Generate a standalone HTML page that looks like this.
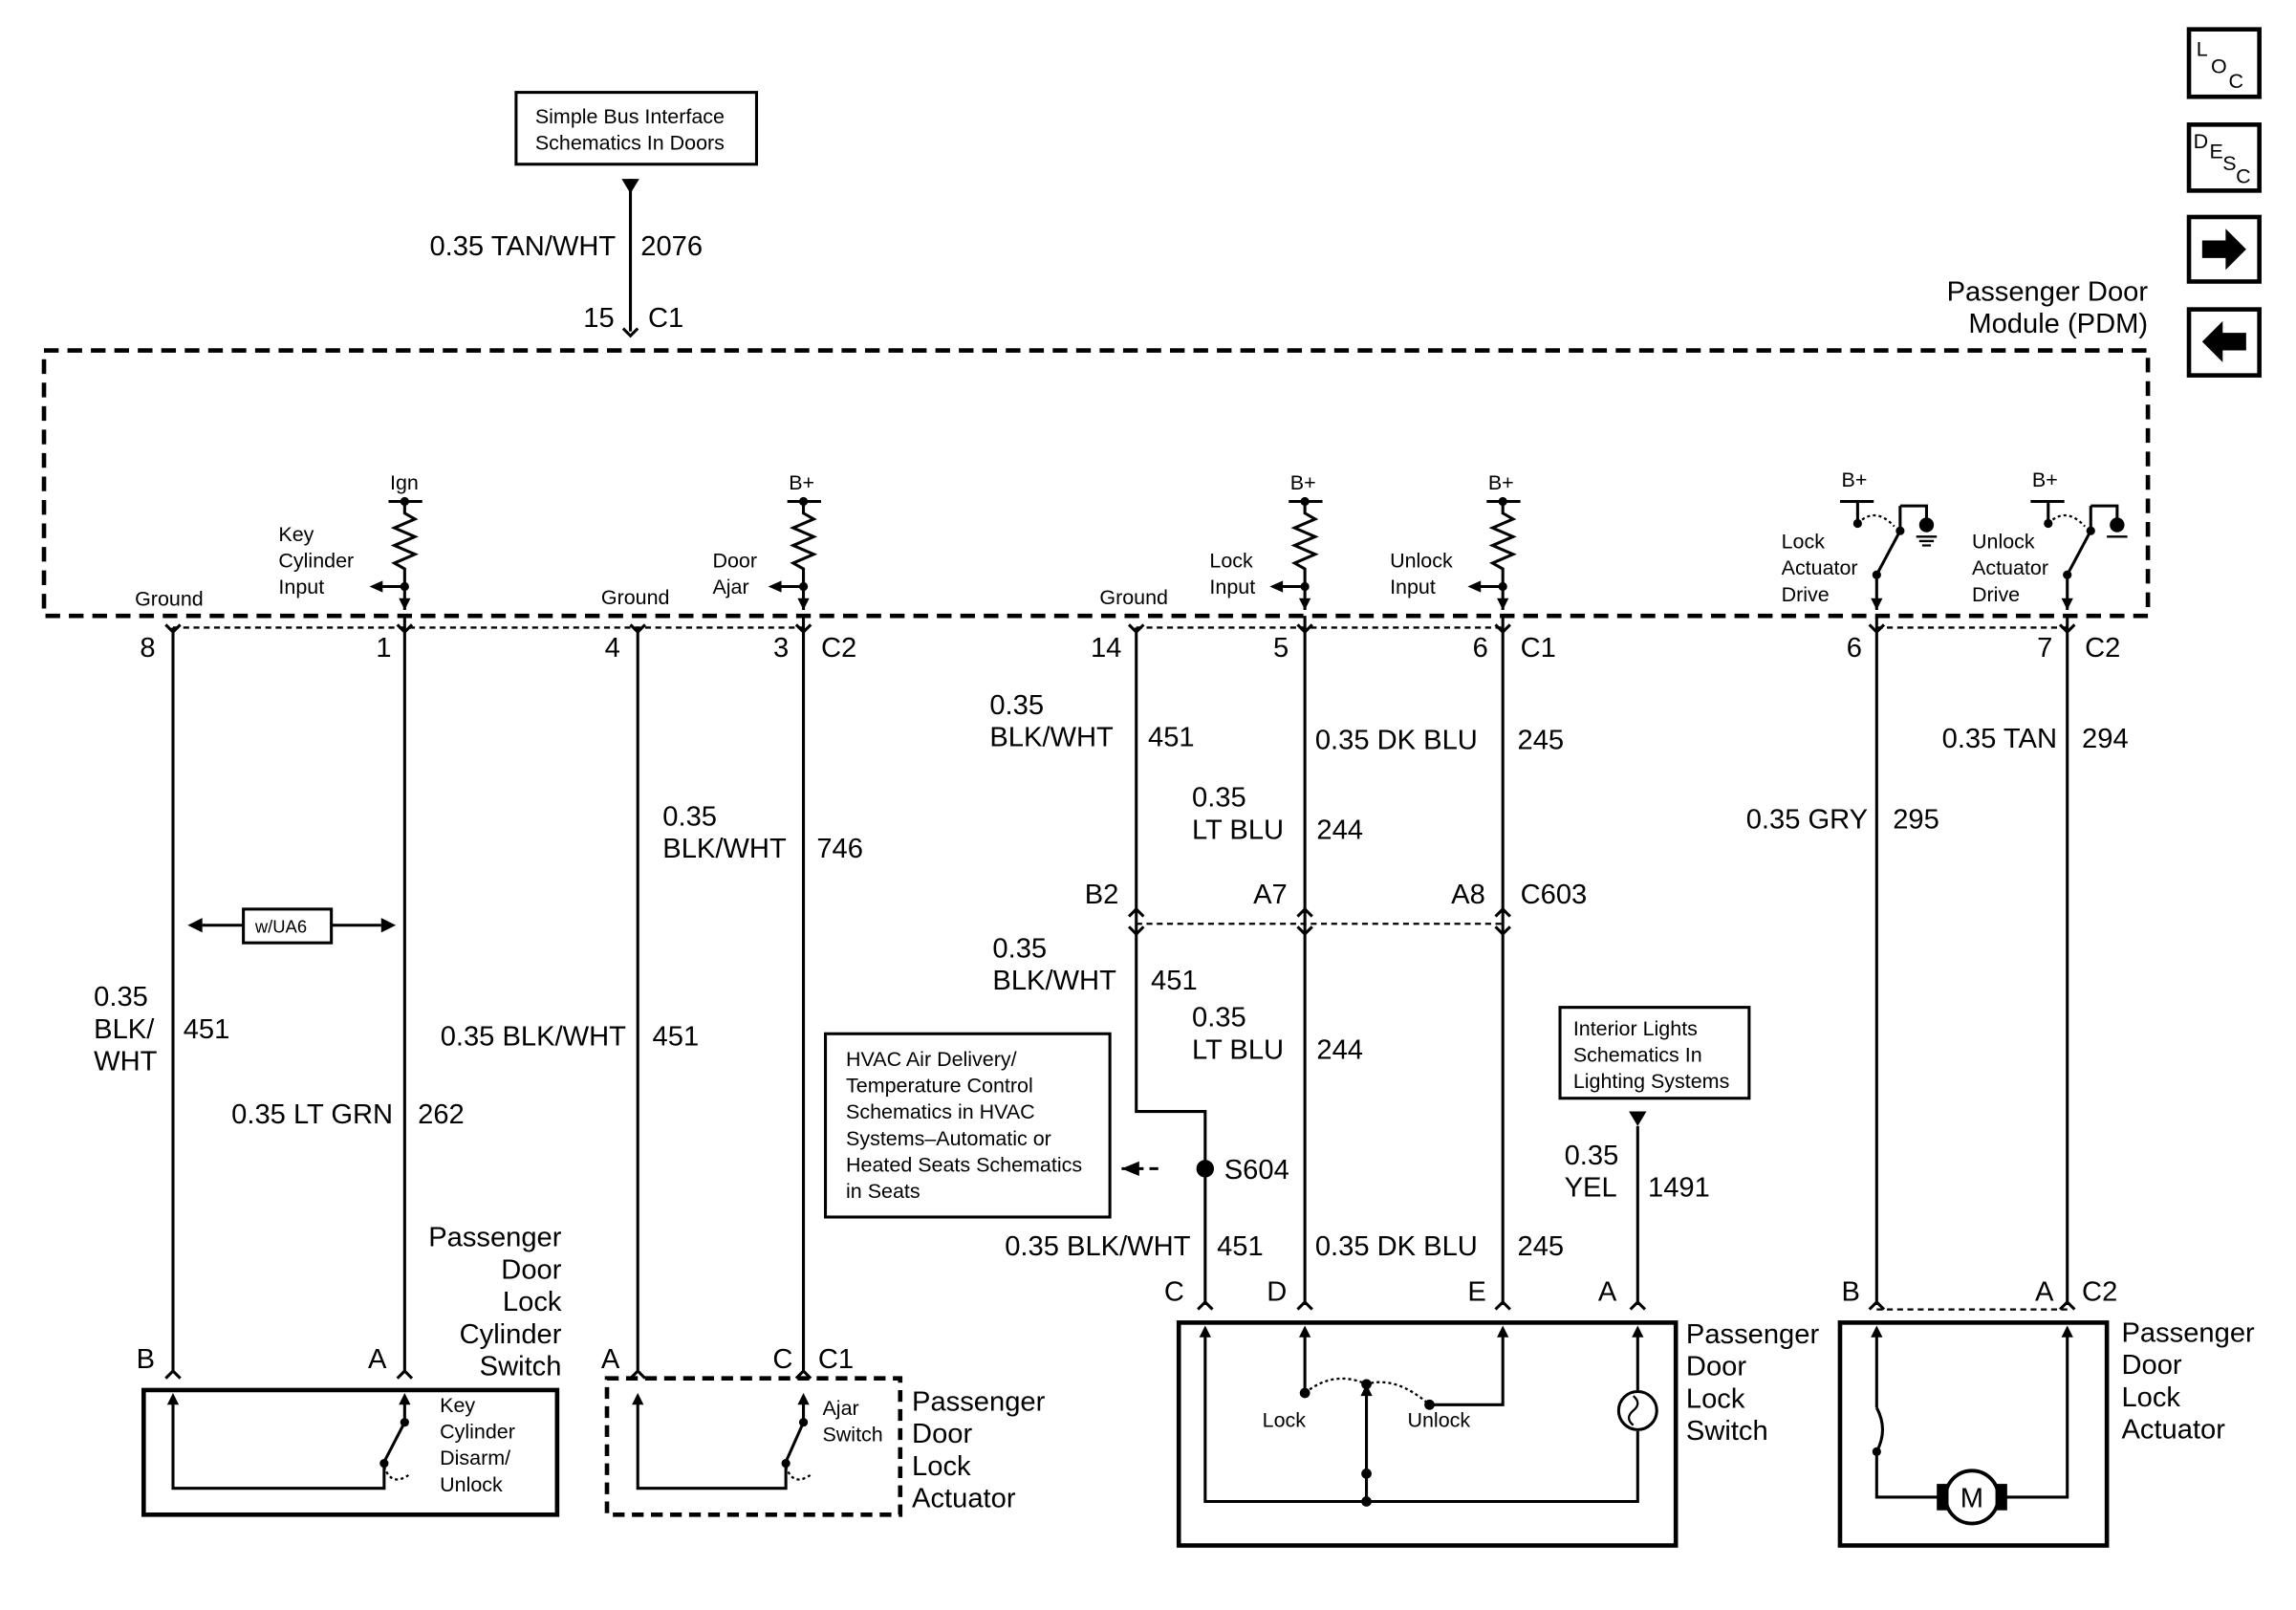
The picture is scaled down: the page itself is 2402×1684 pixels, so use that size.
<!DOCTYPE html>
<html><head><meta charset="utf-8"><style>
html,body{margin:0;padding:0;background:#fff}
svg{display:block}
text{font-family:"Liberation Sans",Arial,sans-serif;fill:#000}
.w{font-size:19px}
.s{font-size:14px}
</style></head><body>
<svg width="2402" height="1684" viewBox="0 0 1566 1098" preserveAspectRatio="none" xmlns="http://www.w3.org/2000/svg">
<g fill="none" stroke="#000" stroke-width="2">
<rect x="1493" y="20" width="48" height="46" stroke-width="3"/>
<rect x="1493" y="85" width="48" height="45" stroke-width="3"/>
<rect x="1493" y="148" width="48" height="44" stroke-width="3"/>
<rect x="1493" y="211" width="48" height="45" stroke-width="3"/>
<rect x="352" y="63" width="164" height="49"/>
<line x1="430" y1="122" x2="430" y2="226"/>
<rect x="30" y="239" width="1435" height="181" stroke-width="3" stroke-dasharray="10 6"/>
<path d="M118 428H548M775 428H1025M1280 428H1410" stroke-width="1.5" stroke-dasharray="4 3"/>
<path d="M775 630H1025M1280 893H1410" stroke-width="1.5" stroke-dasharray="4 3"/>
<path d="M118 428V935M276 420V935M435 428V935M548 420V935M775 428V758H822V890M890 420V890M1025 420V890M1280 420V890M1410 420V890M1117 768V890"/>
<path d="M425 224l5 5 5-5M113 426l5 5 5-5M271 426l5 5 5-5M430 426l5 5 5-5M543 426l5 5 5-5M770 426l5 5 5-5M885 426l5 5 5-5M1020 426l5 5 5-5M1275 426l5 5 5-5M1405 426l5 5 5-5"/>
<path d="M770 625l5-5 5 5M885 625l5-5 5 5M1020 625l5-5 5 5M770 632l5 5 5-5M885 632l5 5 5-5M1020 632l5 5 5-5"/>
<path d="M113 940l5-5 5 5M271 940l5-5 5 5M430 940l5-5 5 5M543 940l5-5 5 5M817 893l5-5 5 5M885 893l5-5 5 5M1020 893l5-5 5 5M1112 893l5-5 5 5M1275 893l5-5 5 5M1405 893l5-5 5 5"/>
<path d="M265 342H288M276 342V350l7 4-14 6 14 6-14 6 14 6-14 6 7 4V416M276 400H255"/>
<path d="M537 342H560M548 342V350l7 4-14 6 14 6-14 6 14 6-14 6 7 4V416M548 400H527"/>
<path d="M879 342H902M890 342V350l7 4-14 6 14 6-14 6 14 6-14 6 7 4V416M890 400H869"/>
<path d="M1014 342H1037M1025 342V350l7 4-14 6 14 6-14 6 14 6-14 6 7 4V416M1025 400H1004"/>
<path d="M1255 342H1278M1267 342V357M1280 416V392l16-30M1296 345V362M1296 345H1314V355M1385 342H1408M1397 342V357M1410 416V392l16-30M1426 345V362M1426 345H1444V355"/>
<path d="M1267 357q12-12 25 2M1397 357q12-12 25 2" stroke-dasharray="2 2" stroke-width="1.5"/>
<path d="M1307 366h14M1309 369h10M1311 372h6M1437 366h14" stroke-width="1.5"/>
<rect x="166" y="620" width="60" height="23"/>
<path d="M138 631H166M226 631H260"/>
<rect x="98" y="948" width="282" height="85" stroke-width="3"/>
<path d="M118 955V1015H262V1000M262 997l14-27M276 970V955"/>
<path d="M262 1000q5 15 18 5" stroke-dasharray="2 2" stroke-width="1.5"/>
<rect x="414" y="940" width="200" height="93" stroke-width="3" stroke-dasharray="8 5"/>
<path d="M435 955V1015H536V1000M536 997l12-27M548 970V955"/>
<path d="M536 1000q5 15 18 5" stroke-dasharray="2 2" stroke-width="1.5"/>
<rect x="563" y="705" width="194" height="125"/>
<path d="M790 797H765" stroke-dasharray="6 4"/>
<rect x="1064" y="687" width="129" height="62"/>
<rect x="804" y="902" width="339" height="152" stroke-width="3"/>
<path d="M822 908V1024H1117V976M1117 948V908M890 908V950M932 1024V950M975 958H1025V908"/>
<path d="M890 950q20-16 42-6 20-6 43 14" stroke-dasharray="2 2" stroke-width="1.5"/>
<circle cx="1117" cy="962" r="13"/>
<path d="M1114 952q6 5 0 10q-6 5 0 10" stroke-width="1.5"/>
<rect x="1255" y="902" width="182" height="152" stroke-width="3"/>
<path d="M1280 908V960M1280 990V1021H1327M1363 1021H1410V908"/>
<path d="M1280 960q8 15 0 30"/>
<circle cx="1345" cy="1021" r="18" stroke-width="2.5"/>
<rect x="1322" y="1013" width="6" height="16" fill="#000"/>
<rect x="1362" y="1013" width="6" height="16" fill="#000"/>
</g>
<g fill="#000">
<path d="M424 122h12l-6 10z"/>
<path d="M1111 758h12l-6 10z"/>
<path d="M765 797l12-5v10z"/>
<circle cx="822" cy="797" r="6"/>
<circle cx="276" cy="342" r="3"/><circle cx="548" cy="342" r="3"/><circle cx="890" cy="342" r="3"/><circle cx="1025" cy="342" r="3"/>
<circle cx="276" cy="400" r="3"/><circle cx="548" cy="400" r="3"/><circle cx="890" cy="400" r="3"/><circle cx="1025" cy="400" r="3"/>
<circle cx="1267" cy="357" r="3"/><circle cx="1280" cy="392" r="3"/><circle cx="1296" cy="362" r="3"/><circle cx="1314" cy="358" r="5"/>
<circle cx="1397" cy="357" r="3"/><circle cx="1410" cy="392" r="3"/><circle cx="1426" cy="362" r="3"/><circle cx="1444" cy="358" r="5"/>
<path d="M252 400l9-4v8zM524 400l9-4v8zM866 400l9-4v8zM1001 400l9-4v8z"/>
<path d="M272 408h8l-4 8zM544 408h8l-4 8zM886 408h8l-4 8zM1021 408h8l-4 8zM1276 408h8l-4 8zM1406 408h8l-4 8z"/>
<path d="M128 631l10-5v10zM270 631l-10-5v10z"/>
<path d="M114 958l4-8 4 8zM272 958l4-8 4 8zM431 958l4-8 4 8zM544 958l4-8 4 8zM818 912l4-8 4 8zM886 912l4-8 4 8zM1021 912l4-8 4 8zM1113 912l4-8 4 8zM1276 912l4-8 4 8zM1406 912l4-8 4 8zM928 952l4-8 4 8z"/>
<circle cx="262" cy="998" r="3"/><circle cx="276" cy="970" r="3"/>
<circle cx="536" cy="998" r="3"/><circle cx="548" cy="970" r="3"/>
<circle cx="890" cy="950" r="3.5"/><circle cx="932" cy="944" r="3.5"/><circle cx="975" cy="958" r="3.5"/>
<circle cx="932" cy="1005" r="3.5"/><circle cx="932" cy="1024" r="3.5"/>
<circle cx="1280" cy="990" r="3"/>
<path d="M1502 164h16v-8l14 14-14 14v-8h-16z"/>
<path d="M1532 227h-16v-8l-14 14 14 14v-8h16z"/>
</g>
<text x="1498" y="38" font-size="14">L</text><text x="1508" y="50" font-size="14">O</text><text x="1520" y="60" font-size="14">C</text>
<text x="1496" y="101" font-size="14">D</text><text x="1507" y="108" font-size="14">E</text><text x="1516" y="116" font-size="14">S</text><text x="1525" y="125" font-size="14">C</text>
<text class="s" x="365" y="84">Simple Bus Interface</text>
<text class="s" x="365" y="102">Schematics In Doors</text>
<text class="w" x="420" y="174" text-anchor="end">0.35 TAN/WHT</text>
<text class="w" x="437" y="174">2076</text>
<text class="w" x="419" y="223" text-anchor="end">15</text>
<text class="w" x="442" y="223">C1</text>
<text class="w" x="1465" y="205" text-anchor="end">Passenger Door</text>
<text class="w" x="1465" y="227" text-anchor="end">Module (PDM)</text>
<g class="s">
<text x="266" y="334">Ign</text><text x="538" y="334">B+</text><text x="880" y="334">B+</text><text x="1015" y="334">B+</text>
<text x="1256" y="332">B+</text><text x="1386" y="332">B+</text>
<text x="190" y="369">Key</text><text x="190" y="387">Cylinder</text><text x="190" y="405">Input</text>
<text x="486" y="387">Door</text><text x="486" y="405">Ajar</text>
<text x="825" y="387">Lock</text><text x="825" y="405">Input</text>
<text x="948" y="387">Unlock</text><text x="948" y="405">Input</text>
<text x="1215" y="374">Lock</text><text x="1215" y="392">Actuator</text><text x="1215" y="410">Drive</text>
<text x="1345" y="374">Unlock</text><text x="1345" y="392">Actuator</text><text x="1345" y="410">Drive</text>
<text x="92" y="413">Ground</text><text x="410" y="412">Ground</text><text x="750" y="412">Ground</text>
</g>
<g class="w">
<text x="106" y="448" text-anchor="end">8</text>
<text x="267" y="448" text-anchor="end">1</text>
<text x="423" y="448" text-anchor="end">4</text>
<text x="538" y="448" text-anchor="end">3</text><text x="560" y="448">C2</text>
<text x="765" y="448" text-anchor="end">14</text>
<text x="879" y="448" text-anchor="end">5</text>
<text x="1015" y="448" text-anchor="end">6</text><text x="1037" y="448">C1</text>
<text x="1270" y="448" text-anchor="end">6</text>
<text x="1400" y="448" text-anchor="end">7</text><text x="1422" y="448">C2</text>
<text x="675" y="487">0.35</text><text x="675" y="509">BLK/WHT</text><text x="783" y="509">451</text>
<text x="897" y="511">0.35 DK BLU</text><text x="1035" y="511">245</text>
<text x="1403" y="510" text-anchor="end">0.35 TAN</text><text x="1420" y="510">294</text>
<text x="813" y="550">0.35</text><text x="813" y="572">LT BLU</text><text x="898" y="572">244</text>
<text x="1274" y="565" text-anchor="end">0.35 GRY</text><text x="1291" y="565">295</text>
<text x="452" y="563">0.35</text><text x="452" y="585">BLK/WHT</text><text x="557" y="585">746</text>
<text x="763" y="616" text-anchor="end">B2</text><text x="878" y="616" text-anchor="end">A7</text><text x="1013" y="616" text-anchor="end">A8</text><text x="1037" y="616">C603</text>
<text x="677" y="653">0.35</text><text x="677" y="675">BLK/WHT</text><text x="785" y="675">451</text>
<text x="813" y="700">0.35</text><text x="813" y="722">LT BLU</text><text x="898" y="722">244</text>
<text x="64" y="686">0.35</text><text x="64" y="708">BLK/</text><text x="64" y="730">WHT</text><text x="125" y="708">451</text>
<text x="427" y="713" text-anchor="end">0.35 BLK/WHT</text><text x="445" y="713">451</text>
<text x="268" y="766" text-anchor="end">0.35 LT GRN</text><text x="285" y="766">262</text>
<text x="1067" y="794">0.35</text><text x="1067" y="816">YEL</text><text x="1124" y="816">1491</text>
<text x="835" y="804">S604</text>
<text x="812" y="856" text-anchor="end">0.35 BLK/WHT</text><text x="830" y="856">451</text>
<text x="897" y="856">0.35 DK BLU</text><text x="1035" y="856">245</text>
<text x="383" y="850" text-anchor="end">Passenger</text><text x="383" y="872" text-anchor="end">Door</text><text x="383" y="894" text-anchor="end">Lock</text><text x="383" y="916" text-anchor="end">Cylinder</text><text x="383" y="938" text-anchor="end">Switch</text>
<text x="794" y="887">C</text><text x="864" y="887">D</text><text x="1001" y="887">E</text><text x="1090" y="887">A</text>
<text x="1256" y="887">B</text><text x="1388" y="887">A</text><text x="1420" y="887">C2</text>
<text x="93" y="933">B</text><text x="251" y="933">A</text>
<text x="410" y="933">A</text><text x="527" y="933">C</text><text x="558" y="933">C1</text>
<text x="622" y="962">Passenger</text><text x="622" y="984">Door</text><text x="622" y="1006">Lock</text><text x="622" y="1028">Actuator</text>
<text x="1150" y="916">Passenger</text><text x="1150" y="938">Door</text><text x="1150" y="960">Lock</text><text x="1150" y="982">Switch</text>
<text x="1447" y="915">Passenger</text><text x="1447" y="937">Door</text><text x="1447" y="959">Lock</text><text x="1447" y="981">Actuator</text>
<text x="1337" y="1028">M</text>
</g>
<g class="s">
<text x="174" y="636" font-size="12">w/UA6</text>
<text x="577" y="727">HVAC Air Delivery/</text><text x="577" y="745">Temperature Control</text><text x="577" y="763">Schematics in HVAC</text><text x="577" y="781">Systems–Automatic or</text><text x="577" y="799">Heated Seats Schematics</text><text x="577" y="817">in Seats</text>
<text x="1073" y="706">Interior Lights</text><text x="1073" y="724">Schematics In</text><text x="1073" y="742">Lighting Systems</text>
<text x="300" y="963">Key</text><text x="300" y="981">Cylinder</text><text x="300" y="999">Disarm/</text><text x="300" y="1017">Unlock</text>
<text x="561" y="965">Ajar</text><text x="561" y="983">Switch</text>
<text x="861" y="973">Lock</text><text x="960" y="973">Unlock</text>
</g>
</svg>
</body></html>
